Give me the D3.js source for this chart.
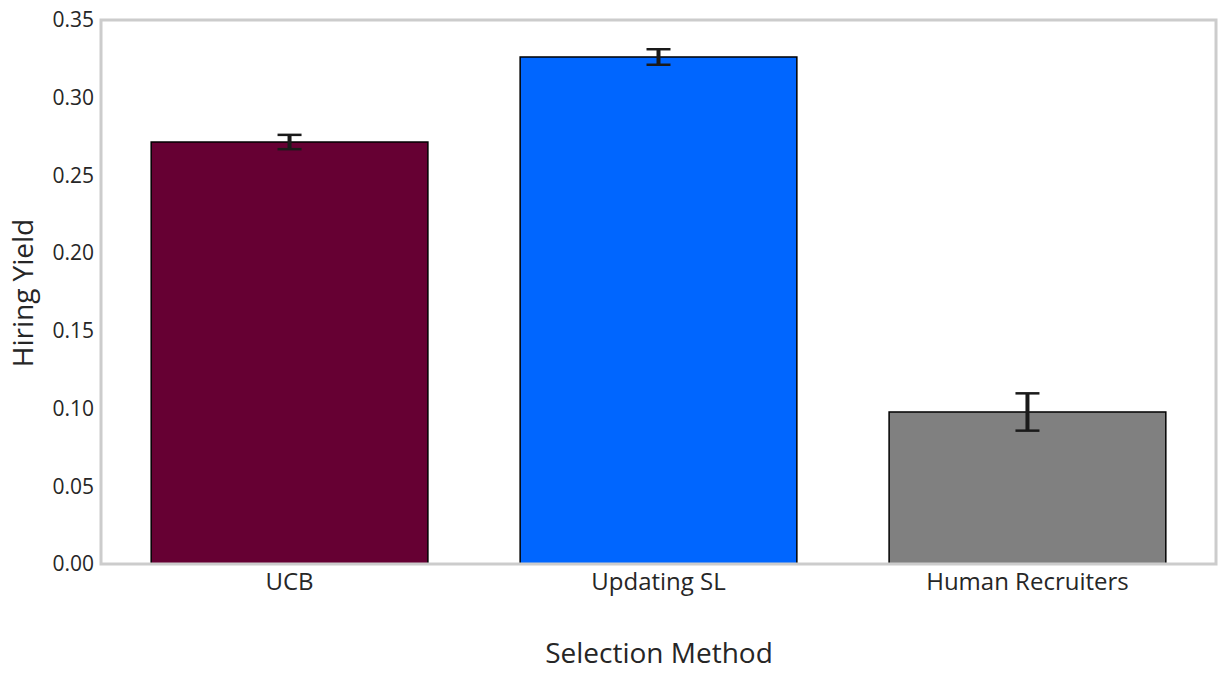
<!DOCTYPE html>
<html>
<head>
<meta charset="utf-8">
<script src="https://cdn.jsdelivr.net/npm/d3@7"></script>
<style>
  body { margin: 0; background: #fff; }
  text { font-family: "Open Sans", Lato, sans-serif; fill: #262626; }
</style>
</head>
<body>
<script>
// chart values
var methods = ["UCB", "Updating SL", "Human Recruiters"];
var yields = [0.2715, 0.3262, 0.0978];
var errors = [0.0046, 0.0050, 0.0120];
var colors = ["#660033", "#0066ff", "#808080"];
var yTicks = [0.00, 0.05, 0.10, 0.15, 0.20, 0.25, 0.30, 0.35];

var w = 1229;
var h = 683;
var plotLeft = 101, plotRight = 1216, plotTop = 20, plotBottom = 564;

var svg = d3.select("body")
    .append("svg")
    .attr("width", w)
    .attr("height", h);

var xScale = d3.scaleBand()
    .domain(methods)
    .range([plotLeft, plotRight])
    .paddingInner(0.25)
    .paddingOuter(0.136);

var yScale = d3.scaleLinear()
    .domain([0, 0.35])
    .range([plotBottom, plotTop]);

// bars
svg.selectAll("rect.bar")
    .data(methods)
    .enter()
    .append("rect")
    .attr("class", "bar")
    .attr("x", function(d){ return xScale(d); })
    .attr("y", function(d, i){ return yScale(yields[i]); })
    .attr("width", xScale.bandwidth())
    .attr("height", function(d, i){ return plotBottom - yScale(yields[i]); })
    .style("fill", function(d, i){ return colors[i]; })
    .style("stroke", "#000")
    .style("stroke-width", 1.5);

// error bars
var eb = svg.selectAll("g.err")
    .data(methods)
    .enter()
    .append("g")
    .attr("class", "err");

eb.append("line")
    .attr("x1", function(d){ return xScale(d) + xScale.bandwidth() / 2; })
    .attr("x2", function(d){ return xScale(d) + xScale.bandwidth() / 2; })
    .attr("y1", function(d, i){ return yScale(yields[i] - errors[i]); })
    .attr("y2", function(d, i){ return yScale(yields[i] + errors[i]); })
    .style("stroke", "#1a1a1a")
    .style("stroke-width", 4);

[-1, 1].forEach(function(sign){
    eb.append("line")
        .attr("x1", function(d){ return xScale(d) + xScale.bandwidth() / 2 - 12; })
        .attr("x2", function(d){ return xScale(d) + xScale.bandwidth() / 2 + 12; })
        .attr("y1", function(d, i){ return yScale(yields[i] + sign * errors[i]); })
        .attr("y2", function(d, i){ return yScale(yields[i] + sign * errors[i]); })
        .style("stroke", "#1a1a1a")
        .style("stroke-width", 2.5);
});

// frame
svg.append("rect")
    .attr("x", plotLeft)
    .attr("y", plotTop)
    .attr("width", plotRight - plotLeft)
    .attr("height", plotBottom - plotTop)
    .style("fill", "none")
    .style("stroke", "#cccccc")
    .style("stroke-width", 3);

// axes
var yAxis = svg.append("g")
    .attr("transform", "translate(" + plotLeft + ",0)")
    .call(d3.axisLeft(yScale).tickValues(yTicks).tickFormat(d3.format(".2f")).tickSize(0).tickPadding(7));
yAxis.select(".domain").remove();
yAxis.selectAll("text").style("font-size", "21px").style("fill", "#262626");

var xAxis = svg.append("g")
    .attr("transform", "translate(0," + plotBottom + ")")
    .call(d3.axisBottom(xScale).tickSize(0).tickPadding(9));
xAxis.select(".domain").remove();
xAxis.selectAll("text").style("font-size", "24px").style("fill", "#262626");

svg.append("text")
    .attr("transform", "rotate(-90)")
    .attr("x", -293)
    .attr("y", 33)
    .attr("text-anchor", "middle")
    .style("font-size", "28px")
    .text("Hiring Yield");

svg.append("text")
    .attr("x", 659)
    .attr("y", 663)
    .attr("text-anchor", "middle")
    .style("font-size", "28px")
    .text("Selection Method");
</script>
</body>
</html>
